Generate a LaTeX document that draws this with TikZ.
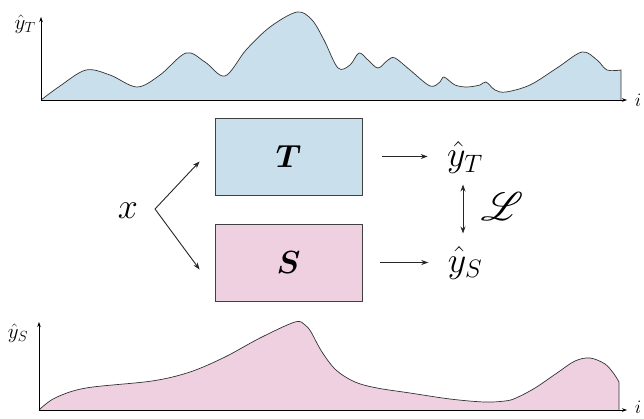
\RequirePackage{fix-cm}
\documentclass[tikz,border=0pt]{standalone}
\usepackage{amsmath,amssymb,mathrsfs}
\usepackage{tikz}
\usetikzlibrary{arrows.meta,positioning}
\definecolor{tFill}{HTML}{C9DFEC}
\definecolor{sFill}{HTML}{EFD0E0}

\begin{document}
\begin{tikzpicture}[
  x=1pt,y=-1pt,
  >={Stealth[length=7pt,width=5pt]},
  every node/.style={font=\fontsize{36}{40}\selectfont},
  net/.style={rectangle,draw=black!75,line width=0.8pt,minimum width=147pt,minimum height=77pt,font=\fontsize{32}{36}\selectfont},
  lbl/.style={font=\fontsize{21}{24}\selectfont},
  ax/.style={line width=0.6pt,>={Stealth[length=5pt,width=3.5pt]}},
  curve/.style={line width=0.7pt,black!80},
  link/.style={->,line width=0.9pt,black!85},
]
  \useasboundingbox (0,0) rectangle (644,419);

  % teacher output signal
  \fill[tFill] (41,100) -- plot[smooth,tension=0.55] coordinates {(41,100) (60,86) (86,70) (110,75) (137,87) (160,75) (186,53) (205,62) (225,76) (246,50) (270,27) (297,12) (312,20) (324,40) (338,68) (350,65) (359,53) (368,60) (378,68) (388,60) (395,58) (410,70) (430,86) (440,82) (444,77) (455,85) (467,87) (480,85) (486,82) (495,90) (506,92) (530,85) (557,68) (582,52) (597,60) (607,70) (621,70)} -- (621,100) -- cycle;
  \draw[curve] plot[smooth,tension=0.55] coordinates {(41,100) (60,86) (86,70) (110,75) (137,87) (160,75) (186,53) (205,62) (225,76) (246,50) (270,27) (297,12) (312,20) (324,40) (338,68) (350,65) (359,53) (368,60) (378,68) (388,60) (395,58) (410,70) (430,86) (440,82) (444,77) (455,85) (467,87) (480,85) (486,82) (495,90) (506,92) (530,85) (557,68) (582,52) (597,60) (607,70) (621,70)} -- (621,100);
  \coordinate (tO) at (41,100);
  \coordinate (tX) at (627,100);
  \coordinate (tY) at (41,17);
  \draw[ax,->] (tO) -- (tX);
  \draw[ax,->] (tO) -- (tY);
  \node[lbl] (tylab) at (25,24) {$\hat{y}_T$};
  \node[font=\fontsize{19}{22}\selectfont] (tilab) at (638,100) {$i$};

  % student output signal
  \fill[sFill] (39,410) -- plot[smooth,tension=0.55] coordinates {(39,410) (55,398) (86,388) (152,381) (190,372) (225,357) (260,338) (295,322) (305,325) (311,332) (322,352) (336,370) (355,382) (377,388) (410,393) (450,399) (484,402) (505,401) (516,398) (535,388) (557,373) (575,361) (590,358) (605,364) (614,374) (619,382)} -- (619,410) -- cycle;
  \draw[curve] plot[smooth,tension=0.55] coordinates {(39,410) (55,398) (86,388) (152,381) (190,372) (225,357) (260,338) (295,322) (305,325) (311,332) (322,352) (336,370) (355,382) (377,388) (410,393) (450,399) (484,402) (505,401) (516,398) (535,388) (557,373) (575,361) (590,358) (605,364) (614,374) (619,382)} -- (619,410);
  \coordinate (sO) at (39,410);
  \coordinate (sX) at (627,410);
  \coordinate (sY) at (39,322);
  \draw[ax,->] (sO) -- (sX);
  \draw[ax,->] (sO) -- (sY);
  \node[lbl] (sylab) at (18,333) {$\hat{y}_S$};
  \node[font=\fontsize{19}{22}\selectfont] (silab) at (638,407) {$i$};

  % networks
  \node[net,fill=tFill] (T) at (288.5,156.5) {$\boldsymbol{T}$};
  \node[net,fill=sFill] (S) at (288.5,262.5) {$\boldsymbol{S}$};
  \node (x) at (128,211) {$x$};
  \node (yT) at (465,158) {$\hat{y}_T$};
  \node (yS) at (465,263) {$\hat{y}_S$};
  \node (L) at (502,207) {\scalebox{1.6}{$\mathscr{L}$}};
  \coordinate (fork) at (155,209);

  \draw[link] (fork) -- ([xshift=-15pt,yshift=-5pt]T.west);
  \draw[link] (fork) -- ([xshift=-15pt,yshift=-7pt]S.west);
  \draw[link,shorten <=20pt,shorten >=16pt] (T.east) -- (T.east -| yT.west);
  \draw[link,shorten <=18pt,shorten >=16pt] (S.east) -- (S.east -| yS.west);
  \draw[link,<->] ([xshift=-2pt,yshift=-7pt]yT.south) -- ([xshift=-2pt,yshift=10pt]yS.north);
\end{tikzpicture}
\end{document}
